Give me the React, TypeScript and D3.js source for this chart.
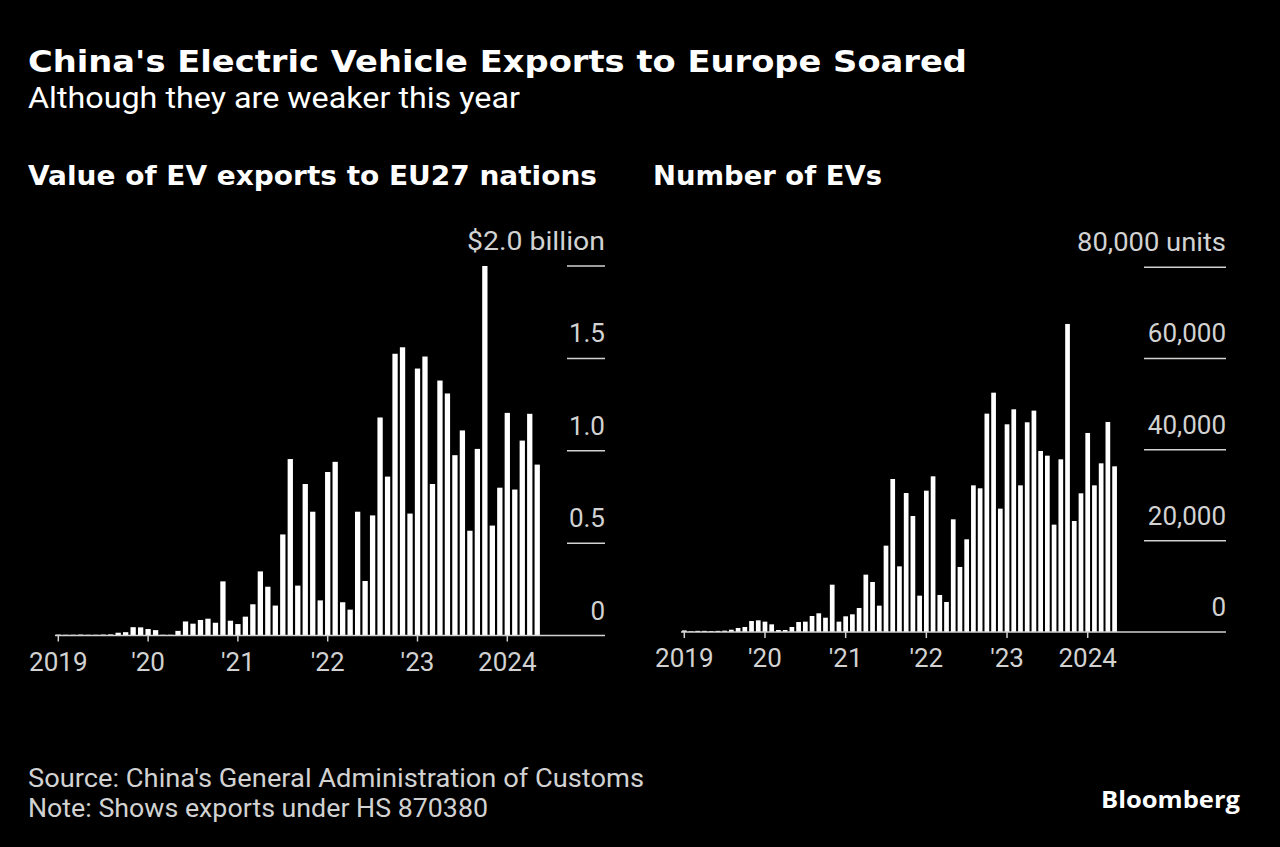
import React from "react";
import * as d3 from "d3";

// Month index 0 = Jan 2019 ... 64 = May 2024
const monthLabels: string[] = d3.range(65).map((i) => `${2019 + Math.floor(i / 12)}-${String((i % 12) + 1).padStart(2, "0")}`);

// Value of EV exports to EU27 ($ billion)
const valueBillions: number[] = [
  0.005, 0.004, 0.004, 0.005, 0.004, 0.004, 0.005, 0.006,
  0.015, 0.018, 0.045, 0.044, 0.035, 0.029, 0.004, 0.004,
  0.025, 0.076, 0.064, 0.084, 0.091, 0.069, 0.293, 0.08,
  0.062, 0.102, 0.169, 0.347, 0.264, 0.162, 0.547, 0.955,
  0.27, 0.82, 0.67, 0.19, 0.885, 0.94, 0.18, 0.14,
  0.67, 0.295, 0.65, 1.18, 0.86, 1.525, 1.56, 0.66,
  1.445, 1.51, 0.82, 1.38, 1.31, 0.976, 1.11, 0.567,
  1.01, 2.0, 0.595, 0.8, 1.205, 0.79, 1.055, 1.2, 0.925,
];

// Number of EVs (units)
const unitsCount: number[] = [
  350, 150, 250, 250, 200, 250, 300, 500,
  880, 1100, 2410, 2560, 2270, 1680, 440, 440,
  1100, 2190, 2270, 3510, 4100, 3140, 10380, 2270,
  3440, 3880, 5270, 12580, 10970, 5780, 18940, 33560,
  14400, 30490, 25450, 7970, 31000, 34150, 8120, 6580,
  24720, 14260, 20330, 32170, 31520, 47900, 52500, 27060,
  45560, 48850, 32170, 46000, 48560, 39710, 38680, 23550,
  37880, 67570, 24350, 30420, 43660, 32170, 37000, 46070, 36340,
];

const valueTicks: number[] = [0, 0.5, 1.0, 1.5, 2.0];
const unitTicks: number[] = [0, 20000, 40000, 60000, 80000];
const yearTickIndex: number[] = [0, 12, 24, 36, 48, 60];
const yearLabels: string[] = ["2019", "'20", "'21", "'22", "'23", "2024"];

const TICK_FONT = "'Liberation Sans Narrow', 'Roboto', 'Liberation Sans', sans-serif";
const LABEL_COLOR = "#d2d2d2";

type PanelProps = {
  values: number[];
  x0: number;
  x60: number;
  barW: number;
  y0: number;
  yTop: number;
  yMax: number;
  ticks: number[];
  fmt: (d: number, isTop: boolean) => string;
  topWidth: number;
  gridX1: number;
  gridX2: number;
  axisX1: number;
};

function Panel(p: PanelProps) {
  const x = d3.scaleLinear().domain([0, 60]).range([p.x0, p.x60]);
  const y = d3.scaleLinear().domain([0, p.yMax]).range([p.y0, p.yTop]);
  return (
    <g>
      {p.ticks.map((t, i) => {
        const isTop = i === p.ticks.length - 1;
        return (
          <g key={t}>
            {t !== 0 && (
              <line x1={p.gridX1} x2={p.gridX2} y1={y(t)} y2={y(t)} stroke={LABEL_COLOR} strokeWidth={1.5} />
            )}
            <text
              x={p.gridX2}
              y={y(t) - 16}
              textAnchor="end"
              fill={LABEL_COLOR}
              fontFamily={TICK_FONT}
              fontSize={26}
              {...(isTop ? { textLength: p.topWidth, lengthAdjust: "spacingAndGlyphs" } : {})}
            >
              {p.fmt(t, isTop)}
            </text>
          </g>
        );
      })}
      {p.values.map((v, i) => (
        <rect
          key={monthLabels[i]}
          x={x(i) - p.barW / 2}
          y={y(v)}
          width={p.barW}
          height={Math.max(0, y(0) - y(v))}
          fill="#ffffff"
        />
      ))}
      <line x1={p.axisX1} x2={p.gridX2} y1={y(0)} y2={y(0)} stroke={LABEL_COLOR} strokeWidth={1.5} />
      {yearTickIndex.map((idx, i) => (
        <g key={idx}>
          <line x1={x(idx)} x2={x(idx)} y1={y(0)} y2={y(0) + 6} stroke={LABEL_COLOR} strokeWidth={1.5} />
          <text x={x(idx)} y={y(0) + 35} textAnchor="middle" fill={LABEL_COLOR} fontFamily={TICK_FONT} fontSize={26}>
            {yearLabels[i]}
          </text>
        </g>
      ))}
    </g>
  );
}

export default function App() {
  const titleFont = "'DejaVu Sans', 'Liberation Sans', sans-serif";
  const lightFont = "'Liberation Sans Narrow', 'Roboto', 'Liberation Sans', sans-serif";
  return (
    <svg
      width={1280}
      height={847}
      viewBox="0 0 1280 847"
      style={{ position: "absolute", left: 0, top: 0, display: "block" }}
    >
      <rect x={0} y={0} width={1280} height={847} fill="#000000" />
      <text x={28} y={72} fill="#ffffff" fontFamily={titleFont} fontWeight="bold" fontSize={30} textLength={939} lengthAdjust="spacingAndGlyphs">
        China's Electric Vehicle Exports to Europe Soared
      </text>
      <text x={28} y={108} fill="#ffffff" fontFamily={lightFont} fontSize={30} textLength={492} lengthAdjust="spacingAndGlyphs">
        Although they are weaker this year
      </text>
      <text x={28} y={185} fill="#ffffff" fontFamily={titleFont} fontWeight="bold" fontSize={26} textLength={569} lengthAdjust="spacingAndGlyphs">
        Value of EV exports to EU27 nations
      </text>
      <text x={653} y={185} fill="#ffffff" fontFamily={titleFont} fontWeight="bold" fontSize={26} textLength={229} lengthAdjust="spacingAndGlyphs">
        Number of EVs
      </text>

      <Panel
        values={valueBillions}
        x0={58.3}
        x60={507.3}
        barW={5.3}
        y0={635.5}
        yTop={266}
        yMax={2}
        ticks={valueTicks}
        fmt={(d, isTop) => (isTop ? "$2.0 billion" : d === 0 ? "0" : d3.format(".1f")(d))}
        topWidth={138}
        gridX1={567}
        gridX2={605}
        axisX1={55}
      />
      <Panel
        values={unitsCount}
        x0={684.3}
        x60={1087.7}
        barW={4.7}
        y0={632}
        yTop={267.3}
        yMax={80000}
        ticks={unitTicks}
        fmt={(d, isTop) => d3.format(",")(d) + (isTop ? " units" : "")}
        topWidth={149}
        gridX1={1144}
        gridX2={1226}
        axisX1={681}
      />

      <text x={28} y={787} fill={LABEL_COLOR} fontFamily={lightFont} fontSize={26} textLength={616} lengthAdjust="spacingAndGlyphs">
        Source: China's General Administration of Customs
      </text>
      <text x={28} y={817} fill={LABEL_COLOR} fontFamily={lightFont} fontSize={26} textLength={460} lengthAdjust="spacingAndGlyphs">
        Note: Shows exports under HS 870380
      </text>
      <text x={1240} y={808} textAnchor="end" fill="#ffffff" fontFamily="'Open Sans', 'Liberation Sans', sans-serif" fontWeight="bold" fontSize={23} textLength={139} lengthAdjust="spacingAndGlyphs">
        Bloomberg
      </text>
    </svg>
  );
}
